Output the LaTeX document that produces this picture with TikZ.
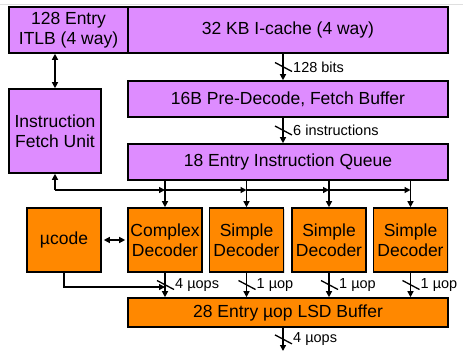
\documentclass[tikz,border=0pt]{standalone}
\usepackage{fontspec}
\setmainfont{Liberation Sans}
\usetikzlibrary{calc,arrows.meta,shadows}
\definecolor{boxPurple}{RGB}{222,140,255}
\definecolor{boxOrange}{RGB}{255,136,0}
\newcommand{\BoxFont}{\fontsize{17.5}{20}\selectfont}
\newcommand{\TagFont}{\fontsize{14.5}{16}\selectfont}
\tikzset{
  unitbox/.style={draw=black,line width=1.6pt,align=center,inner sep=0pt,font=\BoxFont,
                  drop shadow={shadow xshift=1.2pt,shadow yshift=-1.2pt,opacity=0.25}},
  fetchbox/.style={unitbox,fill=boxPurple},
  decbox/.style={unitbox,fill=boxOrange},
  wire/.style={line width=1.3pt,black},
  tip/.tip={Triangle[length=6pt,width=6pt]}
}
\newcommand{\Bus}[4]{%
  \draw[wire,-tip] (#1) -- (#2) coordinate[pos=0.5] (#3m);
  \draw[wire] ($(#3m)+(-8,-4.5)$) -- ($(#3m)+(9,4.5)$);
  \node[anchor=west,inner sep=0pt,font=\TagFont] (#3) at ($(#3m)+(10,0)$) {#4};}

\begin{document}
\begin{tikzpicture}[x=1pt,y=-1pt]
\useasboundingbox (0,0) rectangle (466,351);
\draw[gray!25,line width=0.8pt] (0,4) -- (463,4);
% front end
\node[fetchbox,minimum width=119pt,minimum height=46pt] (itlb) at (68.5,30) {128 Entry\\ITLB (4 way)};
\node[fetchbox,minimum width=320pt,minimum height=46pt] (icache) at (288,30) {32 KB I-cache (4 way)};
\node[fetchbox,minimum width=92pt,minimum height=84pt] (ifu) at (55,131) {Instruction\\Fetch Unit};
\node[fetchbox,minimum width=320pt,minimum height=36pt] (predec) at (288,99) {16B Pre-Decode, Fetch Buffer};
\node[fetchbox,minimum width=320pt,minimum height=36pt] (iq) at (288,162) {18 Entry Instruction Queue};
% decoders
\node[decbox,minimum width=74pt,minimum height=64pt] (ucode) at (64,240) {µcode};
\foreach \n/\x/\t in {cdec/165/Complex,sdec1/246.5/Simple,sdec2/329/Simple,sdec3/410.5/Simple}
  \node[decbox,minimum width=74pt,minimum height=64pt] (\n) at (\x,240) {\t\\Decoder};
\node[decbox,minimum width=320pt,minimum height=29pt] (lsd) at (288,312.5) {28 Entry µop LSD Buffer};
% connectors
\coordinate (spine) at (283,0);
\coordinate (bus) at (55,190);
\coordinate (ujoin) at (165,287);
\coordinate (out) at (283,351);
\draw[wire,tip-tip] (ifu.north |- itlb.south) -- (ifu.north);
\Bus{icache.south -| spine}{predec.north -| spine}{bits}{128 bits}
\Bus{predec.south -| spine}{iq.north -| spine}{insn}{6 instructions}
\draw[wire,-tip] (bus) -- (ifu.south);
\foreach \d [remember=\d as \p (initially bus)] in {cdec,sdec1,sdec2,sdec3}{
  \draw[wire,-tip] (bus -| \p) -- (bus -| \d);
  \draw[wire,-tip] (iq.south -| \d) -- (\d.north);
}
\draw[wire,tip-tip,shorten <=2pt,shorten >=2pt] (ucode.east) -- (cdec.west);
\draw[wire,-tip] (ucode.south) |- (ujoin);
\Bus{cdec.south}{lsd.north -| cdec.south}{cuops}{4 µops}
\Bus{sdec1.south}{lsd.north -| sdec1.south}{suopa}{1 µop}
\Bus{sdec2.south}{lsd.north -| sdec2.south}{suopb}{1 µop}
\Bus{sdec3.south}{lsd.north -| sdec3.south}{suopc}{1 µop}
\Bus{lsd.south -| spine}{out}{outuops}{4 µops}
\end{tikzpicture}
\end{document}
